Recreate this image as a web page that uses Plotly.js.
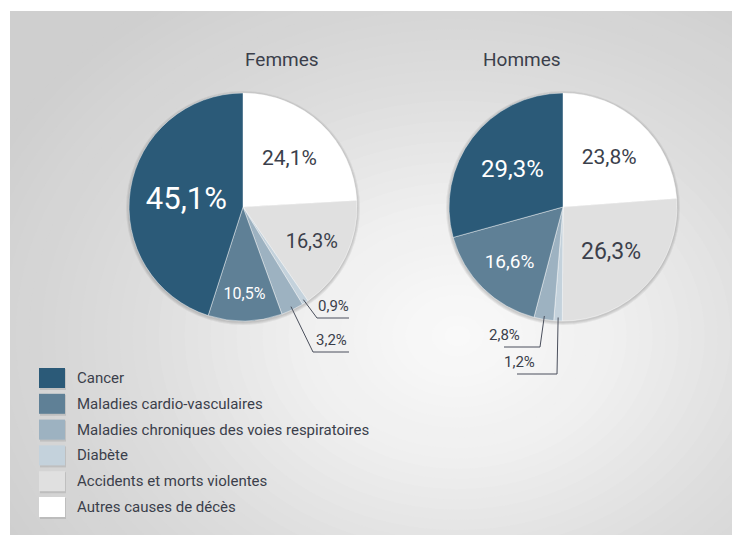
<!DOCTYPE html>
<html>
<head>
<meta charset="utf-8">
<script src="https://cdn.plot.ly/plotly-3.0.1.min.js"></script>
<style>
  html, body { margin: 0; padding: 0; background: #ffffff; overflow: hidden; }
  #chart { width: 732px; height: 535px; }
</style>
</head>
<body>
<div id="chart"></div>
<script>
// slices in clockwise order starting at 12 o'clock
var categories = ["Autres causes de décès", "Accidents et morts violentes", "Diabète",
                  "Maladies chroniques des voies respiratoires", "Maladies cardio-vasculaires", "Cancer"];
var femmes = [24.1, 16.3, 0.9, 3.2, 10.5, 45.1];
var hommes = [23.8, 26.3, 1.2, 2.8, 16.6, 29.3];
var colors = ["#ffffff", "#e0e0e0", "#c4d2dc", "#9db2c1", "#5f8096", "#2b5a78"];
var legendOrder = [5, 4, 3, 2, 1, 0];

var W = 732, H = 535;
var R = 114;
var FONT = "Roboto, 'DejaVu Sans', sans-serif";
var DARK = "#3b3f4b";

var pies = [
  {name: "Femmes", values: femmes, cx: 243, cy: 207, sizes: [21, 20, 13, 13, 16, 31]},
  {name: "Hommes", values: hommes, cx: 563, cy: 207, sizes: [21, 23, 13, 13, 19, 24]}
];

// small slices get a label outside with a leader line
var callouts = [
  {pie: 0, idx: 2, elbow: [317, 318], end: 349},
  {pie: 0, idx: 3, elbow: [313, 352], end: 349},
  {pie: 1, idx: 3, elbow: [540, 347], end: 504},
  {pie: 1, idx: 2, elbow: [557, 374], end: 517}
];

function fmt(v) { return v.toFixed(1).replace(".", ",") + "%"; }
function txtColor(i) { return i >= 4 ? "#ffffff" : DARK; }
// pixel -> paper
function px(x) { return x / W; }
function py(y) { return 1 - y / H; }
function rectPx(x0, x1, y0, y1, fill, layer) {
  var s = {type: "rect", xref: "paper", yref: "paper", x0: px(x0), x1: px(x1), y0: py(y1), y1: py(y0),
           fillcolor: fill, line: {width: 0}};
  if (layer) s.layer = layer;
  return s;
}
function ellPx(x0, x1, y0, y1, fill, layer) {
  return {type: "circle", xref: "paper", yref: "paper", x0: px(x0), x1: px(x1), y0: py(y1), y1: py(y0),
          fillcolor: fill, line: {width: 0}, layer: layer};
}

var data = [];
var annotations = [];
var shapes = [];

// grey radial backdrop made of stacked ellipses
var stops = [[0, 250], [0.32, 239], [0.62, 221], [1, 207]];
function grey(t) {
  t = Math.min(t, 1);
  for (var s = 1; s < stops.length; s++) {
    if (t <= stops[s][0]) {
      var a = stops[s - 1], b = stops[s];
      var g = Math.round(a[1] + (b[1] - a[1]) * (t - a[0]) / (b[0] - a[0]));
      return "rgb(" + g + "," + g + "," + g + ")";
    }
  }
  return "rgb(207,207,207)";
}
var gx = 10 + 0.62 * (W - 10), gy = 11 + 0.62 * (H - 11);
var grx = 0.72 * (W - 10), gry = 0.78 * (H - 11);

shapes.push(rectPx(0, W + 20, 0, H + 20, grey(1), "below"));
var steps = 40;
for (var s = 0; s < steps; s++) {
  var f = 1 - s / steps;
  shapes.push(ellPx(gx - grx * f, gx + grx * f, gy - gry * f, gy + gry * f, grey(f), "below"));
}
// white frame on the top and left edges
shapes.push(rectPx(-5, W + 20, -5, 11, "#ffffff", "below"));
shapes.push(rectPx(-5, 10, -5, H + 20, "#ffffff", "below"));

pies.forEach(function(p, pi) {
  // soft shadow under the pie
  [3, 2, 1].forEach(function(d) {
    shapes.push(ellPx(p.cx - R - d, p.cx + R + d, p.cy - R - d + 1, p.cy + R + d + 1, "rgba(0,0,0,0.06)", "below"));
  });
  var pos = p.values.map(function(v, i) {
    return callouts.some(function(c) { return c.pie === pi && c.idx === i; }) ? "none" : "inside";
  });
  data.push({
    type: "pie",
    labels: categories,
    values: p.values,
    sort: false,
    direction: "clockwise",
    rotation: 0,
    domain: {x: [px(p.cx - R), px(p.cx + R)], y: [py(p.cy + R), py(p.cy - R)]},
    text: p.values.map(fmt),
    textinfo: "text",
    textposition: pos,
    insidetextorientation: "horizontal",
    insidetextfont: {family: FONT, size: p.sizes, color: p.values.map(function(v, i) { return txtColor(i); })},
    marker: {colors: colors, line: {color: "rgba(255,255,255,0.55)", width: 0.8}},
    hoverinfo: "none",
    showlegend: false
  });
  annotations.push({
    x: px(p.cx), y: py(46), xref: "paper", yref: "paper", text: p.name, showarrow: false,
    font: {family: FONT, size: 19, color: DARK}
  });
});

callouts.forEach(function(c) {
  var p = pies[c.pie];
  var total = p.values.reduce(function(a, b) { return a + b; }, 0);
  var before = 0;
  for (var i = 0; i < c.idx; i++) before += p.values[i];
  var mid = (before + p.values[c.idx] / 2) / total * 2 * Math.PI;
  var ex = p.cx + R * 0.97 * Math.sin(mid);
  var ey = p.cy - R * 0.97 * Math.cos(mid);
  shapes.push({
    type: "path", xref: "paper", yref: "paper",
    path: "M" + px(ex) + "," + py(ey) + " L" + px(c.elbow[0]) + "," + py(c.elbow[1]) +
          " L" + px(c.end) + "," + py(c.elbow[1]),
    line: {color: "#4a4f5c", width: 1}
  });
  annotations.push({
    x: px((c.elbow[0] + c.end) / 2), y: py(c.elbow[1] - 1), xref: "paper", yref: "paper",
    yanchor: "bottom", text: fmt(p.values[c.idx]), showarrow: false,
    font: {family: FONT, size: 15, color: DARK}
  });
});

// legend drawn by hand for the large swatches
legendOrder.forEach(function(k, row) {
  var yc = 378 + row * 25.8;
  shapes.push(rectPx(40, 66, yc - 9, yc + 12, "rgba(0,0,0,0.10)"));
  shapes.push(rectPx(39, 65, yc - 10, yc + 10, colors[k]));
  annotations.push({
    x: px(75), y: py(yc), xref: "paper", yref: "paper", xanchor: "left", yanchor: "middle",
    text: categories[k], showarrow: false, font: {family: FONT, size: 15, color: DARK}
  });
});

var layout = {
  width: W, height: H,
  margin: {l: 0, r: 0, t: 0, b: 0, autoexpand: false},
  paper_bgcolor: "#ffffff",
  showlegend: false,
  annotations: annotations,
  shapes: shapes
};

Plotly.newPlot("chart", data, layout, {displayModeBar: false, staticPlot: true});
</script>
</body>
</html>
